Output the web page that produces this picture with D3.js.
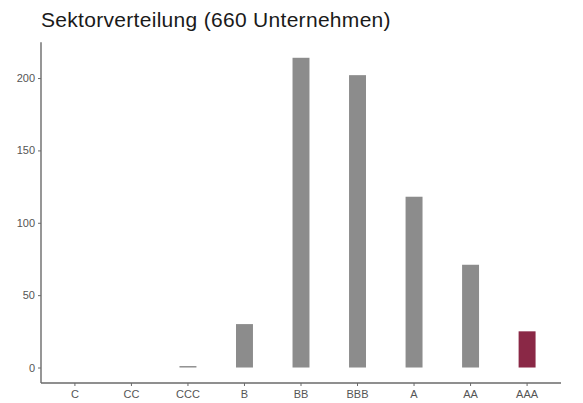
<!DOCTYPE html>
<html><head><meta charset="utf-8">
<script src="https://cdn.jsdelivr.net/npm/d3@7"></script>
<style>body{margin:0;background:#fff;} svg{display:block;}</style>
</head><body>
<svg id="c" width="583" height="403"></svg>
<script>
const categories = ["C","CC","CCC","B","BB","BBB","A","AA","AAA"];
const values = [0,0,1,30,214,202,118,71,25];
const highlight = ["AAA"];
const yTicks = [0,50,100,150,200];
const title = "Sektorverteilung (660 Unternehmen)";

const W=583,H=403;
const m={l:41,r:22,t:42.3,b:20};
const svg=d3.select("#c");
const maxV=d3.max(values);
const x=d3.scaleBand().domain(categories).range([m.l,W-m.r]).paddingOuter(0.1).paddingInner(0);
const y=d3.scaleLinear().domain([-0.05*maxV,maxV*1.05]).range([H-m.b,m.t]);

const bw=x.bandwidth()*0.3;
svg.append("g").selectAll("rect").data(categories).join("rect")
  .attr("x",d=>x(d)+x.bandwidth()/2-bw/2)
  .attr("width",bw)
  .attr("y",(d,i)=>y(values[i]))
  .attr("height",(d,i)=>Math.max(0,y(0)-y(values[i])))
  .attr("fill",d=>highlight.includes(d)?"#8a2846":"#8c8c8c");

const ya=svg.append("g").attr("transform",`translate(${m.l},0)`)
  .call(d3.axisLeft(y).tickValues(yTicks).tickSize(3).tickPadding(3));
const xa=svg.append("g").attr("transform",`translate(0,${H-m.b})`)
  .call(d3.axisBottom(x).tickSize(3).tickPadding(4));
[ya,xa].forEach(a=>{
  a.select(".domain").attr("stroke","#6a6a6a").attr("stroke-width",1.4);
  a.selectAll(".tick line").attr("stroke","#6a6a6a");
  a.selectAll("text").attr("fill","#555").style("font-family","Liberation Sans, Arial, sans-serif").style("font-size","11px");
});
ya.select(".domain").attr("d",`M0,${m.t}V${H-m.b}`);
xa.select(".domain").attr("d",`M${m.l},0H${W-m.r}`);

svg.append("text").attr("x",41).attr("y",27).text(title)
  .attr("fill","#1a1a1a").style("font-family","Liberation Sans, Arial, sans-serif")
  .style("font-size","21px").style("letter-spacing","0.3px");
</script>
</body></html>
